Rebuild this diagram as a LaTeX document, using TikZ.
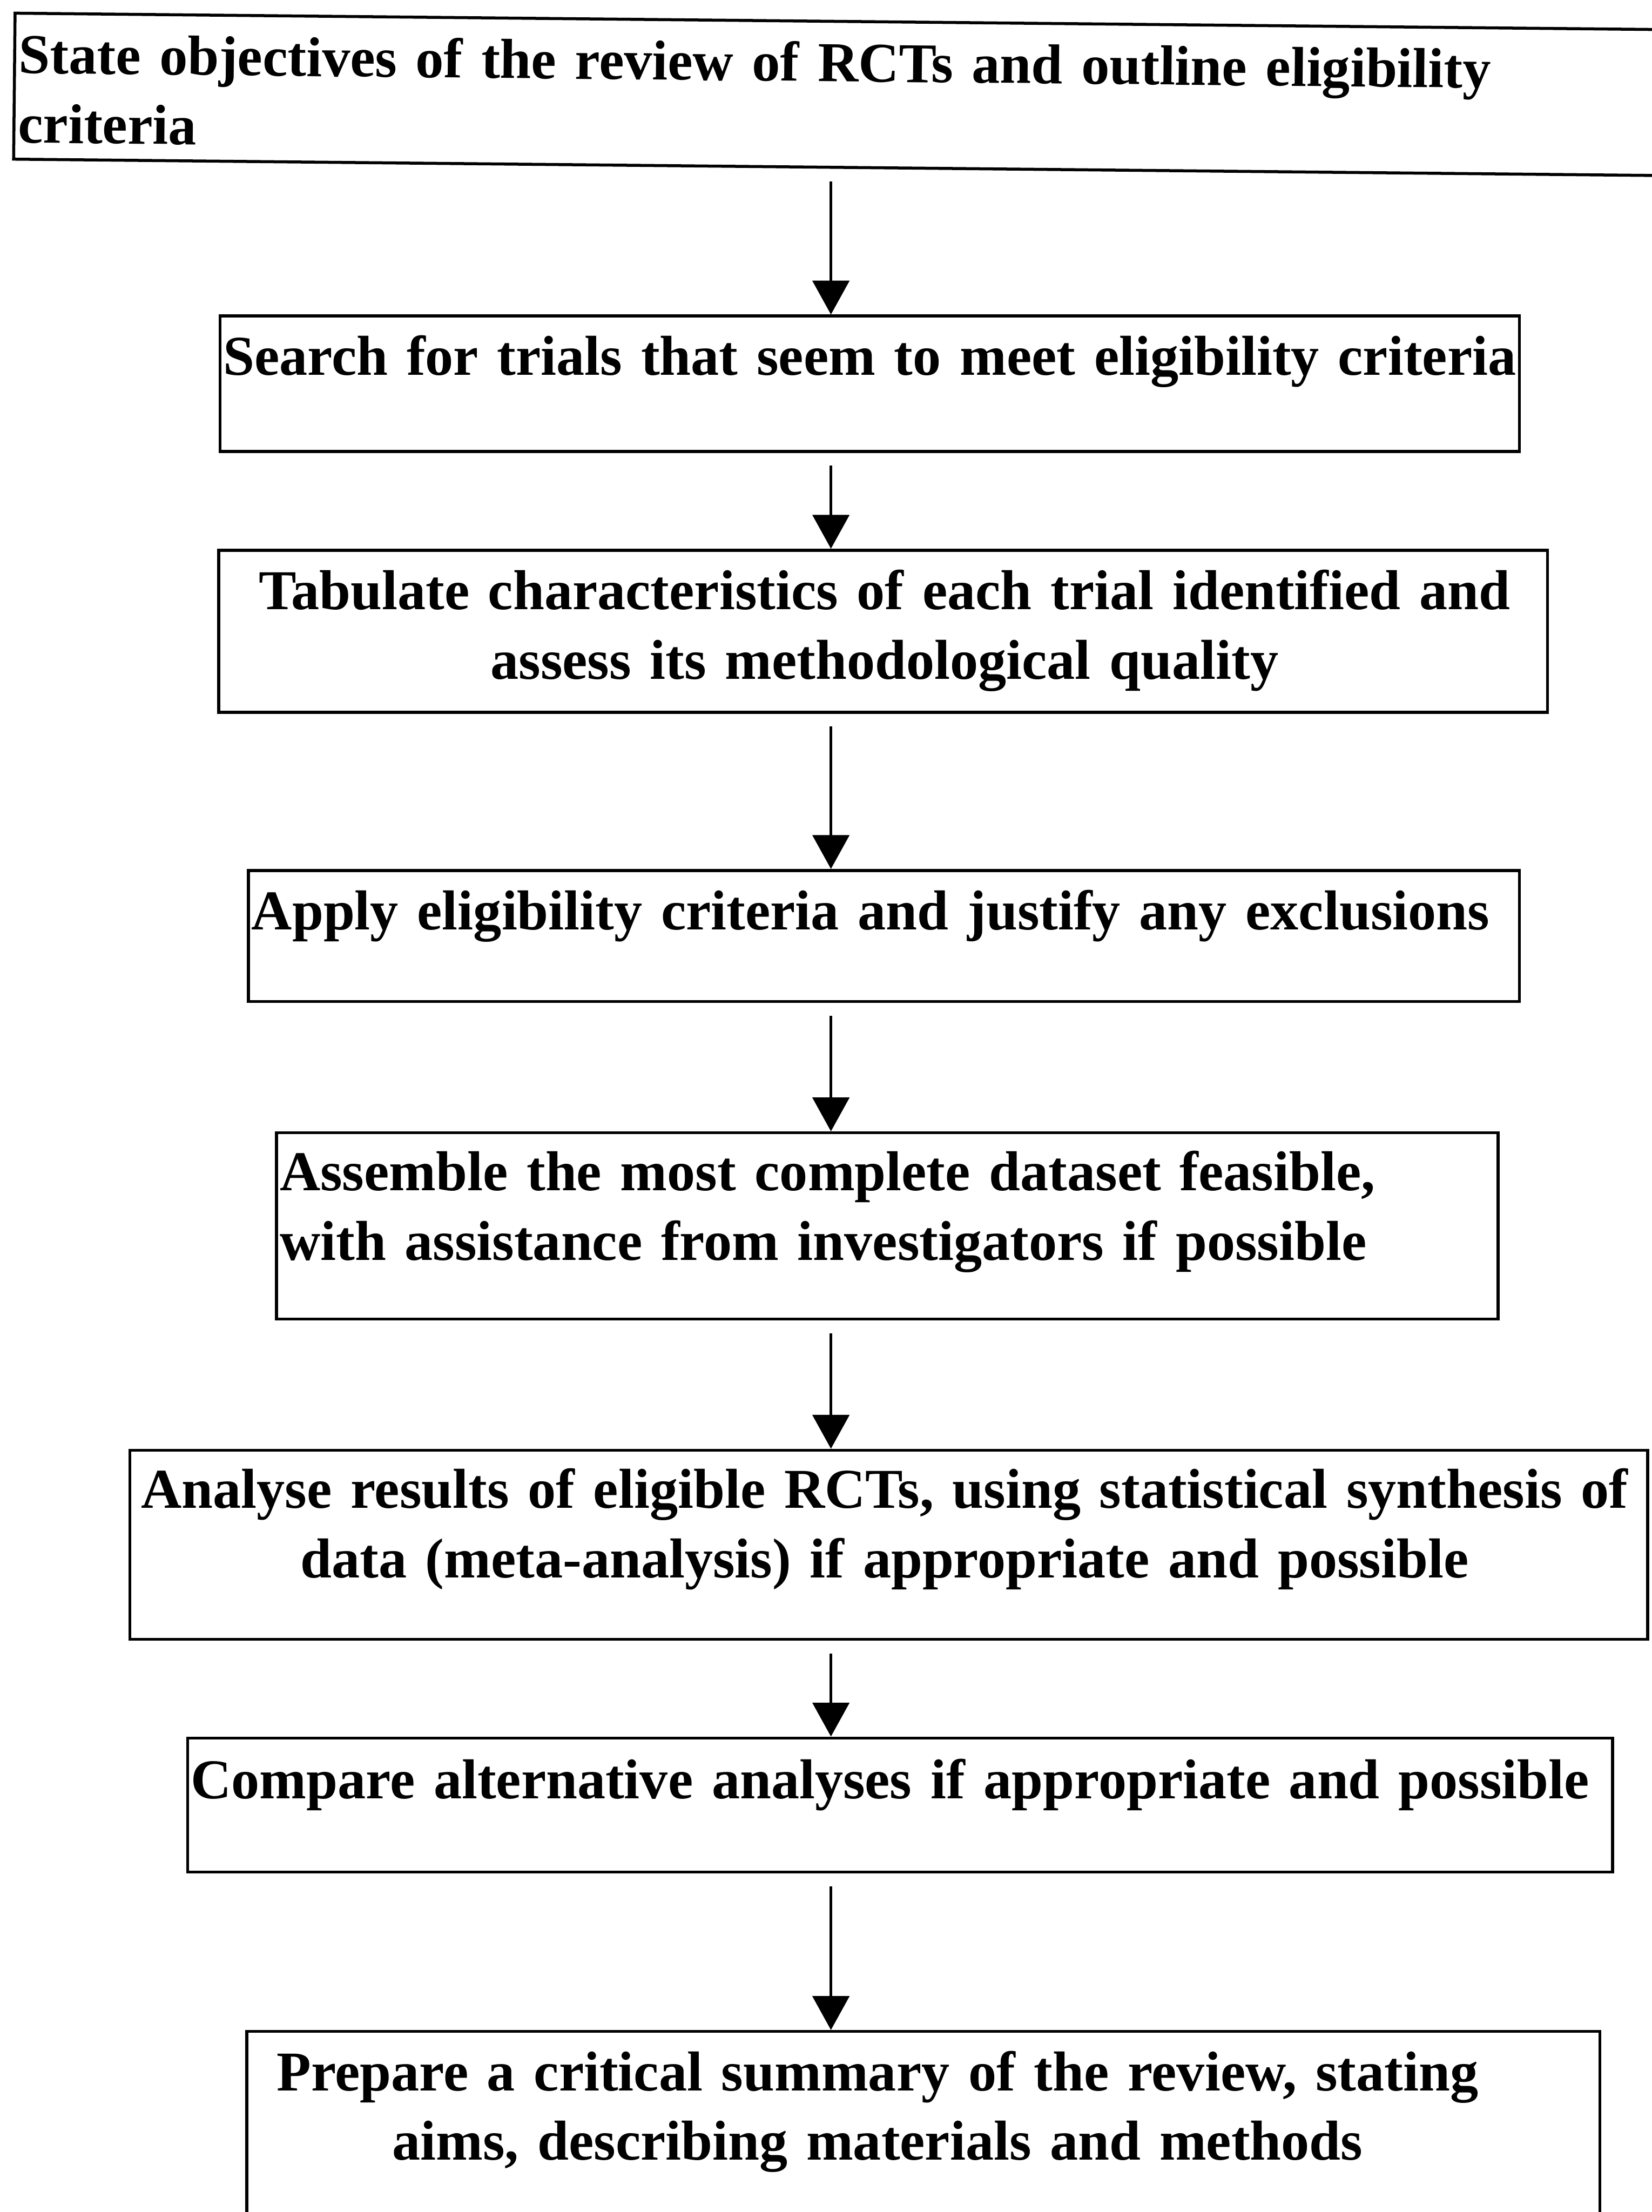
\documentclass[tikz,border=0pt]{standalone}
\usepackage{fontspec}
\setmainfont{Liberation Serif}
\usetikzlibrary{arrows.meta,fit}

\begin{document}
\begin{tikzpicture}[
        x=0.02cm, y=-0.02cm,
        stepbox/.style={draw, line width=1.2pt, inner sep=0pt},
        steptext/.style={font=\fontsize{22.7}{28}\selectfont\bfseries, inner sep=0pt},
        flow/.style={-{Triangle[width=0.52cm, length=0.48cm]}, line width=1.1pt, shorten <=0.18cm}
    ]
        \useasboundingbox (0,0) rectangle (1171,1568);
        \fill[white] (0,0) rectangle (1171,1568);

        % Frames of the review steps (the first one sits a little askew, as on the scan)
        \node[stepbox, rotate=-0.57, minimum width=23.8cm, minimum height=2.07cm] (objectives) at (605,67) {};
        \node[stepbox, fit={(156,224) (1077,320)}] (search) {};
        \node[stepbox, fit={(155,390) (1097,505)}] (tabulate) {};
        \node[stepbox, fit={(176,617) (1077,710)}] (apply) {};
        \node[stepbox, fit={(196,803) (1062,935)}] (assemble) {};
        \node[stepbox, fit={(92,1028) (1168,1162)}] (analyse) {};
        \node[stepbox, fit={(133,1232) (1143,1327)}] (compare) {};
        \node[stepbox, fit={(175,1440) (1134,1620)}] (prepare) {};

        % Texts of the steps
        \node[steptext, rotate=-0.57, anchor=base west, text width=22cm, align=left] (objectives-t) at (13,52)
            {State objectives of the review of RCTs and outline eligibility\\criteria};
        \node[steptext, anchor=base west, text width=19cm, align=left] (search-t) at (158,266)
            {Search for trials that seem to meet eligibility criteria};
        \node[steptext, anchor=base, text width=19cm, align=center] (tabulate-t) at (627,432)
            {Tabulate characteristics of each trial identified and\\assess its methodological quality};
        \node[steptext, anchor=base west, text width=19cm, align=left] (apply-t) at (178,659)
            {Apply eligibility criteria and justify any exclusions};
        \node[steptext, anchor=base west, text width=19cm, align=left] (assemble-t) at (198,844)
            {Assemble the most complete dataset feasible,\\with assistance from investigators if possible};
        \node[steptext, anchor=base, text width=22cm, align=center] (analyse-t) at (627,1069)
            {Analyse results of eligible RCTs, using statistical synthesis of\\data (meta-analysis) if appropriate and possible};
        \node[steptext, anchor=base west, text width=21cm, align=left] (compare-t) at (135,1275)
            {Compare alternative analyses if appropriate and possible};
        \node[steptext, anchor=base, text width=19cm, align=center] (prepare-t) at (622,1482)
            {Prepare a critical summary of the review, stating\\aims, describing materials and methods};

        % Downward flow between the steps
        \coordinate (axis) at (589,0);
        \foreach \a/\b in {objectives/search, search/tabulate, tabulate/apply, apply/assemble,
                           assemble/analyse, analyse/compare, compare/prepare} {
            \draw[flow] (\a.south -| axis) -- (\b.north -| axis);
        }
    \end{tikzpicture}
\end{document}
